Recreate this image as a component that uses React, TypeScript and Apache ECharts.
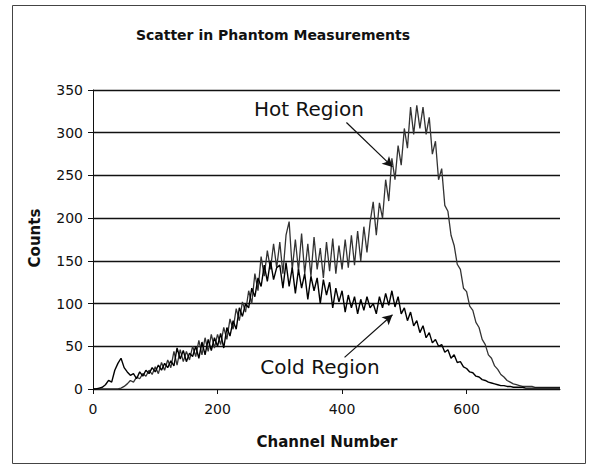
import React, { useEffect, useRef } from "react";
import * as echarts from "echarts";

// Channel numbers sampled every 5 channels (0..750)
const channels: number[] = Array.from({ length: 151 }, (_, i) => i * 5);

const hotCounts: number[] = [
  0, 0, 0, 0, 0, 0, 0, 0, 0, 1,
  3, 6, 10, 8, 14, 12, 18, 15, 22, 17,
  26, 18, 31, 22, 34, 25, 44, 28, 46, 32,
  44, 34, 50, 38, 57, 40, 60, 44, 64, 48,
  64, 52, 72, 58, 82, 70, 94, 80, 102, 90,
  115, 100, 135, 115, 155, 132, 162, 140, 170, 142,
  172, 135, 180, 196, 140, 175, 138, 182, 135, 170,
  132, 178, 140, 165, 130, 172, 138, 176, 135, 168,
  140, 175, 142, 180, 145, 185, 150, 190, 160, 195,
  219, 180, 218, 200, 245, 220, 270, 245, 285, 262,
  305, 282, 330, 298, 332, 305, 330, 298, 318, 275,
  290, 245, 258, 215, 208, 180, 168, 146, 140, 118,
  114, 97, 92, 78, 72, 58, 52, 40, 36, 27,
  23, 17, 14, 10, 8, 6, 5, 4, 3, 3,
  3, 3, 2, 2, 2, 2, 2, 2, 2, 2,
  2,
];

const coldCounts: number[] = [
  0, 0, 1, 2, 5, 10, 8, 22, 30, 36,
  25, 20, 16, 18, 12, 20, 15, 22, 18, 25,
  20, 28, 22, 30, 25, 33, 27, 48, 35, 45,
  32, 42, 38, 50, 36, 55, 40, 58, 45, 60,
  50, 65, 48, 72, 62, 80, 70, 95, 85, 100,
  95, 118, 108, 130, 120, 145, 126, 150, 128, 142,
  145, 118, 148, 120, 142, 112, 140, 118, 135, 105,
  132, 115, 130, 100, 128, 110, 125, 95, 118, 102,
  115, 90, 110, 95, 108, 88, 105, 92, 108, 95,
  100, 88, 108, 95, 112, 98, 115, 96, 108, 88,
  95, 80, 90, 74, 80, 66, 74, 60, 66, 54,
  58, 50, 52, 43, 46, 36, 40, 31, 32, 26,
  24, 20, 19, 15, 14, 11, 10, 8, 7, 6,
  5, 4, 4, 3, 3, 2, 2, 2, 2, 1,
  1, 1, 1, 1, 1, 1, 1, 1, 1, 1,
  1,
];

const xTicks: number[] = [0, 200, 400, 600];
const yMax = 350;
const yInterval = 50;

const hotArrow: number[][] = [[407, 312], [481, 260]];
const coldArrow: number[][] = [[404, 37], [481, 87]];

export default function App() {
  const ref = useRef<HTMLDivElement>(null);

  useEffect(() => {
    if (!ref.current) return;
    const chart = echarts.init(ref.current, undefined, { renderer: "svg" });
    const font = "DejaVu Sans, Arial, sans-serif";
    const arrowLine = (pts: number[][]) => ({
      silent: true,
      symbol: ["none", "arrow"],
      symbolSize: [8, 10],
      lineStyle: { color: "#111", width: 1.2, type: "solid" },
      label: { show: false },
      data: [[{ coord: pts[0] }, { coord: pts[1] }]],
    });
    chart.setOption({
      animation: false,
      backgroundColor: "#fff",
      grid: { left: 93, right: 32, top: 90, bottom: 77 },
      xAxis: {
        type: "value",
        min: 0,
        max: 750,
        interval: 200,
        axisLine: { show: true, lineStyle: { color: "#111", width: 1 } },
        axisTick: {
          show: true,
          length: 5,
          customValues: xTicks,
          lineStyle: { color: "#111" },
        },
        axisLabel: {
          customValues: xTicks,
          margin: 13,
          color: "#111",
          fontSize: 14,
          fontFamily: font,
        },
        splitLine: { show: false },
      },
      yAxis: {
        type: "value",
        min: 0,
        max: yMax,
        interval: yInterval,
        axisLine: { show: true, lineStyle: { color: "#111", width: 1 } },
        axisTick: { show: true, length: 5, lineStyle: { color: "#111" } },
        axisLabel: { margin: 10, color: "#111", fontSize: 14, fontFamily: font },
        splitLine: { show: true, lineStyle: { color: "#111", width: 1.3 } },
      },
      series: [
        {
          name: "Hot Region",
          type: "line",
          showSymbol: false,
          data: channels.map((c, i) => [c, hotCounts[i]]),
          lineStyle: { color: "#333", width: 1.3 },
          markLine: arrowLine(hotArrow),
        },
        {
          name: "Cold Region",
          type: "line",
          showSymbol: false,
          data: channels.map((c, i) => [c, coldCounts[i]]),
          lineStyle: { color: "#000", width: 1.4 },
          markLine: arrowLine(coldArrow),
        },
      ],
      graphic: [
        {
          type: "rect",
          shape: { x: 12.5, y: 5.5, width: 573, height: 458 },
          style: { fill: "none", stroke: "#444", lineWidth: 1 },
          silent: true,
        },
        {
          type: "text",
          x: 273,
          y: 35,
          style: {
            text: "Scatter in Phantom Measurements",
            align: "center",
            verticalAlign: "middle",
            font: `bold 14px ${font}`,
            fill: "#111",
          },
        },
        {
          type: "text",
          x: 35,
          y: 238,
          rotation: Math.PI / 2,
          style: {
            text: "Counts",
            align: "center",
            verticalAlign: "middle",
            font: `bold 15px ${font}`,
            fill: "#111",
          },
        },
        {
          type: "text",
          x: 327,
          y: 442,
          style: {
            text: "Channel Number",
            align: "center",
            verticalAlign: "middle",
            font: `bold 15px ${font}`,
            fill: "#111",
          },
        },
        {
          type: "text",
          x: 309,
          y: 109,
          style: {
            text: "Hot Region",
            align: "center",
            verticalAlign: "middle",
            font: `20px ${font}`,
            fill: "#111",
          },
        },
        {
          type: "text",
          x: 320,
          y: 367,
          style: {
            text: "Cold Region",
            align: "center",
            verticalAlign: "middle",
            font: `20px ${font}`,
            fill: "#111",
          },
        },
      ],
    });
    return () => chart.dispose();
  }, []);

  return (
    <div
      ref={ref}
      style={{ position: "fixed", left: 0, top: 0, width: 592, height: 466 }}
    />
  );
}
